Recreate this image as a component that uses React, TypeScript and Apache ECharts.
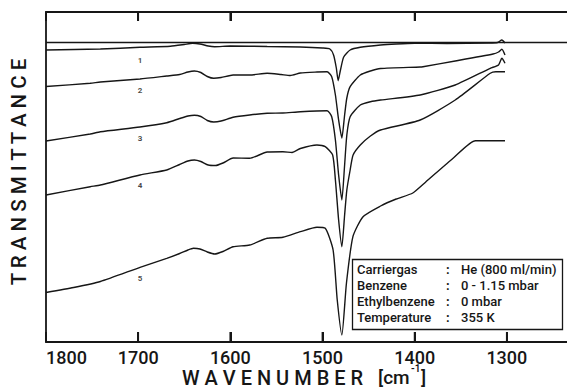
import React, { useEffect, useRef } from "react";
import * as echarts from "echarts";

// Wavenumber (cm^-1) vs transmittance (arbitrary units, 0 = bottom of frame)
const wavenumberTicks = [1700, 1600, 1500, 1400, 1300];

const referenceLine: [number, number][] = [
  [1800, 299.5],
  [1200, 299.5],
];

const curve1: [number, number][] = [
  [1800, 292], [1741, 293], [1698, 294.7], [1665, 295.8], [1650, 297.5], [1641, 298.7],
  [1633, 298], [1624, 296], [1617, 295.3], [1600, 296], [1560, 295.5], [1524, 295],
  [1500, 294], [1492, 293], [1488, 287], [1485, 274], [1483, 261.3], [1480.5, 272],
  [1477, 285], [1470, 292], [1459, 294.7], [1437, 297], [1420, 298], [1400, 298.7],
  [1365, 298.5], [1320, 299], [1310, 299.5], [1305.4, 302], [1302, 299],
];

const curve2: [number, number][] = [
  [1800, 255.5], [1752, 258.7], [1741, 260], [1698, 263], [1669, 266], [1655, 267.5],
  [1646, 270], [1639, 271], [1632, 269.5], [1625, 265.5], [1618, 263.7], [1610, 264.5],
  [1597, 267], [1579, 267], [1560, 268.7], [1545, 267.5], [1535, 266.5], [1524, 269],
  [1506, 270], [1495, 270.3], [1490, 265.3], [1486, 247], [1482.5, 222], [1479, 204],
  [1476, 227], [1473.6, 244], [1470, 255.3], [1459, 267], [1448, 271], [1437, 273.5],
  [1394, 275], [1391, 275.3], [1356, 281], [1315, 288], [1309, 290], [1305.4, 292.7],
  [1302, 287],
];

const curve3: [number, number][] = [
  [1800, 201], [1752, 208], [1741, 210.3], [1698, 215], [1669, 219.3], [1655, 223.5],
  [1646, 226], [1639, 226.8], [1632, 225.5], [1625, 221.5], [1618, 220], [1610, 221],
  [1597, 224.7], [1579, 227], [1560, 228.7], [1543, 229], [1524, 230.3], [1495, 231.3],
  [1490, 225.3], [1486, 202], [1482.5, 167], [1479, 142], [1476, 177], [1473.6, 207],
  [1470, 225.3], [1459, 237], [1448, 240.3], [1437, 242], [1394, 247], [1356, 257],
  [1318, 273.7], [1309, 277], [1305.4, 283.7], [1302, 278.7],
];

const curve4: [number, number][] = [
  [1800, 147], [1752, 155.3], [1741, 157], [1698, 167], [1669, 172], [1655, 177.5],
  [1646, 181], [1639, 182], [1632, 180.5], [1624, 177], [1616, 176.5], [1608, 179],
  [1597, 184], [1579, 183.7], [1560, 190], [1543, 190.3], [1533, 189.5], [1524, 193.5],
  [1506, 197], [1497, 195.3], [1489, 187], [1486, 162], [1482.5, 122], [1479, 95.3],
  [1476, 127], [1473.6, 152], [1470, 172], [1466.8, 187], [1459, 197], [1448, 206],
  [1437, 212], [1394, 222], [1356, 242], [1318, 268.7], [1312, 270.3], [1302, 270.3],
];

const curve5: [number, number][] = [
  [1800, 49.5], [1770, 54.5], [1741, 60.5], [1698, 74.7], [1669, 83.7], [1655, 88.5],
  [1646, 92], [1640, 93.7], [1633, 93], [1625, 90], [1617, 88], [1608, 90.5],
  [1597, 95.3], [1579, 97], [1560, 103.7], [1543, 104.7], [1524, 110.3], [1506, 114.7],
  [1497, 113.7], [1488.5, 92], [1484, 42], [1479, 7], [1474, 59], [1467, 105.3],
  [1456, 125.3], [1437, 136], [1420, 143], [1402, 149], [1388, 160], [1358, 184],
  [1334, 201.3], [1302, 201.3],
];

const curveNames = ["1", "2", "3", "4", "5"];
const curveLabelWavenumber = 1698;
const curveLabelValues = [282, 252, 204, 157, 64];

const infoKeys = ["Carriergas", "Benzene", "Ethylbenzene", "Temperature"];
const infoValues = ["He (800 ml/min)", "0 - 1.15 mbar", "0 mbar", "355 K"];

const FONT = "Roboto, 'Open Sans', sans-serif";
const INK = "#161616";
const Y_MIN = 0;
const Y_MAX = 330;
const TICK_LEN = 10; // in y units (1 unit = 1 px here)

export default function App() {
  const ref = useRef<HTMLDivElement>(null);

  useEffect(() => {
    if (!ref.current) return;
    const chart = echarts.init(ref.current, undefined, { renderer: "svg" });

    const lineSeries = [curve1, curve2, curve3, curve4, curve5].map((d, i) => ({
      type: "line",
      name: "curve " + curveNames[i],
      data: d,
      showSymbol: false,
      symbol: "none",
      smooth: 0.2,
      lineStyle: { color: INK, width: 1.4 },
      z: 3,
    }));

    // inward frame ticks drawn as tiny line series through the axis scale
    const tickSeries: any[] = [];
    wavenumberTicks.forEach((v) => {
      tickSeries.push(
        {
          type: "line",
          name: "tick bottom " + v,
          data: [[v, Y_MIN], [v, Y_MIN + TICK_LEN]],
          symbol: "none",
          lineStyle: { color: INK, width: 1.8 },
          clip: false,
          silent: true,
          z: 6,
        },
        {
          type: "line",
          name: "tick top " + v,
          data: [[v, Y_MAX], [v, Y_MAX - TICK_LEN + 1]],
          symbol: "none",
          lineStyle: { color: INK, width: 1.8 },
          clip: false,
          silent: true,
          z: 6,
        }
      );
    });

    const infoElements: any[] = [];
    infoKeys.forEach((k, i) => {
      const y = 269.5 + i * 16;
      infoElements.push(
        { type: "text", x: 357, y, style: { text: k, fill: INK, font: `500 13px ${FONT}`, textVerticalAlign: "middle" } },
        { type: "text", x: 446, y, style: { text: ":", fill: INK, font: `700 13px ${FONT}`, textVerticalAlign: "middle" } },
        { type: "text", x: 461, y, style: { text: infoValues[i], fill: INK, font: `500 13px ${FONT}`, textVerticalAlign: "middle" } }
      );
    });

    const option: any = {
      animation: false,
      grid: { left: 46, top: 12, width: 553, height: 330, outerBoundsMode: "none" },
      xAxis: [
        {
          type: "value",
          min: 1200,
          max: 1800,
          interval: 100,
          inverse: true,
          position: "bottom",
          axisLine: { show: true, lineStyle: { color: INK, width: 1.8 } },
          axisTick: { show: true, inside: true, length: 10, lineStyle: { color: INK, width: 2 } },
          axisLabel: {
            show: true,
            color: INK,
            fontFamily: FONT,
            fontSize: 18,
            fontWeight: 500,
            margin: 6,
            alignMaxLabel: "left",
            showMinLabel: false,
            formatter: (v: number) => (v < 1300 ? "" : String(v)),
          },
          splitLine: { show: false },
        },
        {
          type: "value",
          min: 1200,
          max: 1800,
          interval: 100,
          inverse: true,
          position: "top",
          axisLine: { show: true, lineStyle: { color: INK, width: 1.8 } },
          axisTick: { show: true, inside: true, length: 9, lineStyle: { color: INK, width: 2 } },
          axisLabel: { show: false },
          splitLine: { show: false },
        },
      ],
      yAxis: {
        type: "value",
        min: Y_MIN,
        max: Y_MAX,
        axisLine: { show: true, lineStyle: { color: INK, width: 1.8 } },
        axisTick: { show: false },
        axisLabel: { show: false },
        splitLine: { show: false },
      },
      series: [
        {
          type: "line",
          name: "reference",
          data: referenceLine,
          symbol: "none",
          lineStyle: { color: INK, width: 1.5 },
          z: 2,
        },
        ...lineSeries,
        ...tickSeries,
        {
          type: "scatter",
          name: "labels",
          data: curveLabelValues.map((v, i) => ({ value: [curveLabelWavenumber, v], name: curveNames[i] })),
          symbolSize: 1,
          itemStyle: { color: "transparent" },
          label: {
            show: true,
            position: "inside",
            formatter: (p: any) => p.name,
            color: INK,
            fontFamily: FONT,
            fontSize: 8,
            fontWeight: 700,
          },
          z: 4,
        },
      ],
      graphic: [
        {
          type: "text",
          x: 19,
          y: 172,
          rotation: Math.PI / 2,
          style: {
            text: "T R A N S M I T T A N C E",
            fill: INK,
            font: `500 20.5px ${FONT}`,
            textAlign: "center",
            textVerticalAlign: "middle",
          },
        },
        {
          type: "text",
          x: 182,
          y: 377.5,
          style: { text: "W A V E N U M B E R", fill: INK, font: `500 20px ${FONT}`, textVerticalAlign: "middle" },
        },
        {
          type: "text",
          x: 378,
          y: 377.5,
          style: { text: "[cm", fill: INK, font: `500 19px ${FONT}`, textVerticalAlign: "middle" },
        },
        {
          type: "text",
          x: 411,
          y: 368,
          style: { text: "-1", fill: INK, font: `600 10px ${FONT}`, textVerticalAlign: "middle" },
        },
        {
          type: "text",
          x: 421,
          y: 377.5,
          style: { text: "]", fill: INK, font: `500 19px ${FONT}`, textVerticalAlign: "middle" },
        },
        {
          type: "group",
          children: [
            {
              type: "rect",
              shape: { x: 352.5, y: 259.5, width: 210, height: 70 },
              style: { fill: "#ffffff", stroke: INK, lineWidth: 1.3 },
              z: 10,
            },
            ...infoElements.map((e) => ({ ...e, z: 11 })),
          ],
          z: 10,
        },
      ],
    };

    chart.setOption(option);
    return () => chart.dispose();
  }, []);

  return (
    <div
      ref={ref}
      style={{ position: "fixed", left: 0, top: 0, width: 567, height: 389, background: "#fff" }}
    />
  );
}
